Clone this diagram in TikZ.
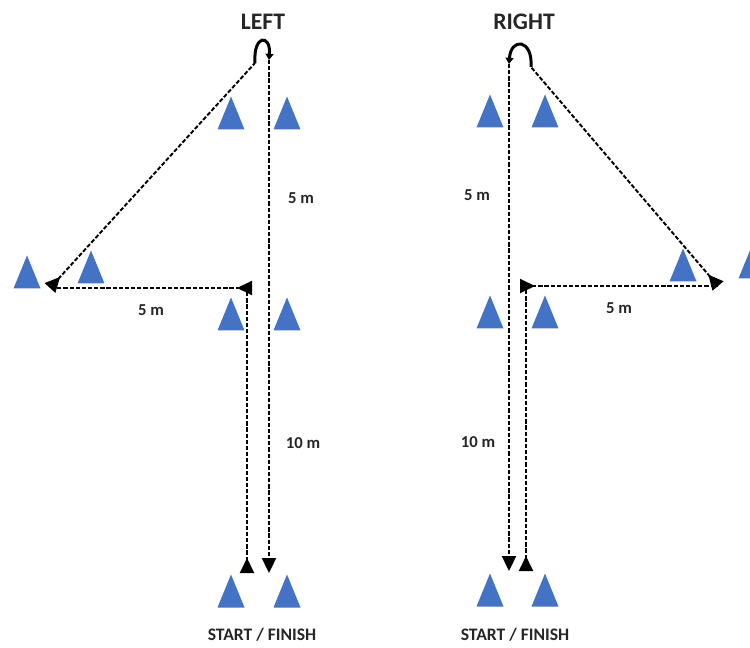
\documentclass[tikz,border=0pt]{standalone}
\usepackage{fontspec}
\setmainfont{Carlito}
\usepackage{xcolor}
\definecolor{coneblue}{RGB}{68,114,196}
\usetikzlibrary{arrows.meta, positioning}

\begin{document}
\begin{tikzpicture}[
    x=0.02cm, y=-0.02cm,
    route/.style={line width=1.1pt, dash pattern=on 2.4pt off 1.1pt},
    backtip/.style={{Triangle[reversed, length=8.5pt, width=8pt]}-},
    endtip/.style={-{Triangle[length=8.5pt, width=8pt]}},
    uturn/.style={line width=1.7pt, -{Triangle[length=3.5pt, width=4.5pt]}},
    title/.style={font=\fontsize{13.5}{15}\selectfont\bfseries, text=black!85},
    dist/.style={font=\fontsize{9.5}{11}\selectfont\bfseries, text=black!85},
    start/.style={font=\fontsize{10}{12}\selectfont\bfseries, text=black!85},
    cone/.pic={\fill[coneblue] (-13.5,16.5) -- (0,-16.5) -- (13.5,16.5) -- cycle;}
]
\clip (0,0) rectangle (750,648);

% cones
\foreach \cx/\cy in {231/113, 287/113, 27/272, 91/267, 231/314, 287/314,
                     231/591, 287/591, 490/111, 545/111, 683/265, 752/262,
                     490/312, 545/312, 490/590, 545/590}
  \pic at (\cx,\cy) {cone};

% LEFT course
\node[title] (left) at (263,22) {LEFT};
\coordinate (l-start) at (247,573);
\coordinate (l-turn)  at (247,288);
\coordinate (l-gate)  at (252,288);
\coordinate (l-far)   at (50,288);
\coordinate (l-top)   at (255,63);
\coordinate (l-back)  at (269,60);
\coordinate (l-end)   at (269,573);

\draw[route, backtip] (l-start) -- (l-turn);
\draw[route, backtip] (l-gate) -- (l-far);
\draw[route, backtip] (l-far) -- (l-top);
\draw[uturn] (l-top) .. controls (253,34) and (271,34) .. (l-back);
\draw[route, endtip] (l-back) -- (l-end);

\node[dist] (l-d1) at (301,198) {5 m};
\node[dist] (l-d2) at (151,310) {5 m};
\node[dist] (l-d3) at (303,443) {10 m};
\node[start] (l-sf) at (262,635) {START / FINISH};

% RIGHT course
\node[title] (right) at (524,22) {RIGHT};
\coordinate (r-start) at (526,571);
\coordinate (r-turn)  at (526,286);
\coordinate (r-gate)  at (520,286);
\coordinate (r-far)   at (718,286);
\coordinate (r-top)   at (531,67);
\coordinate (r-back)  at (509,64);
\coordinate (r-end)   at (509,571);

\draw[route, backtip] (r-start) -- (r-turn);
\draw[route, backtip] (r-gate) -- (r-far);
\draw[route, backtip] (r-far) -- (r-top);
\draw[uturn] (r-top) .. controls (533,39) and (511,37) .. (r-back);
\draw[route, endtip] (r-back) -- (r-end);

\node[dist] (r-d1) at (477,195) {5 m};
\node[dist] (r-d2) at (619,308) {5 m};
\node[dist] (r-d3) at (478,442) {10 m};
\node[start] (r-sf) at (515,635) {START / FINISH};
\end{tikzpicture}
\end{document}
